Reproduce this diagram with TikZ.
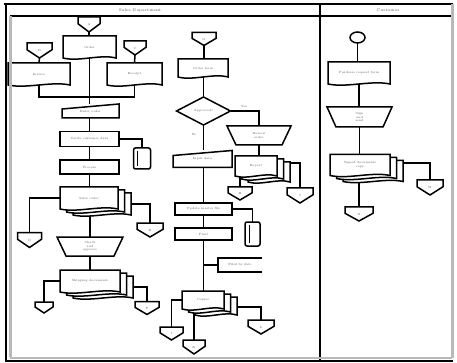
\documentclass[tikz,border=0pt]{standalone}
\usetikzlibrary{calc,shapes.geometric}
\pgfdeclarelayer{bg}
\pgfsetlayers{bg,main}
\newcommand\shDocO[2]{\path[shp] ([shift={#2}]#1.south west) -- ([shift={#2}]#1.north west) -- ([shift={#2}]#1.north east) -- ([shift={#2}]#1.south east) .. controls ($([shift={#2}]#1.south east)!0.3!([shift={#2}]#1.south west)+(0,4pt)$) and ($([shift={#2}]#1.south east)!0.7!([shift={#2}]#1.south west)+(0,-4pt)$) .. ([shift={#2}]#1.south west) -- cycle;}
\newcommand\shDoc[1]{\shDocO{#1}{(0pt,0pt)}}
\newcommand\shMDoc[1]{\shDocO{#1}{(13pt,-6pt)}\shDocO{#1}{(6.5pt,-3pt)}\shDocO{#1}{(0pt,0pt)}}
\newcommand\shMI[1]{\path[shp] (#1.south west) -- ($(#1.north west)+(0,-5pt)$) -- (#1.north east) -- (#1.south east) -- cycle;}
\newcommand\shMO[1]{\path[shp] (#1.north west) -- (#1.north east) -- ($(#1.south east)+(-9pt,0)$) -- ($(#1.south west)+(9pt,0)$) -- cycle;}
\newcommand\shOP[1]{\path[shp] (#1.north west) -- (#1.north east) -- ($(#1.north east)!0.45!(#1.south east)$) -- (#1.south) -- ($(#1.north west)!0.45!(#1.south west)$) -- cycle;}
\newcommand\shFile[1]{\path[shp,rounded corners=2pt] (#1.north west) rectangle (#1.south east); \draw[line width=1pt] ($(#1.north west)+(4pt,-3pt)$) -- ($(#1.south west)+(4pt,3pt)$);}
\newcommand\shAnn[1]{\draw[line width=1.3pt] (#1.north east) -- (#1.north west) -- (#1.south west) -- (#1.south east);}
\begin{document}
\begin{tikzpicture}[x=1pt,y=-1pt,
  shp/.style={draw=black,line width=1.5pt,fill=white,line join=miter},
  ln/.style={draw=black,line width=1.5pt},
  hold/.style={inner sep=0pt,outer sep=0pt,font=\fontsize{3}{3.6}\selectfont,text=gray!70!black,align=center},
  proc/.style={hold,draw=black,line width=1.5pt,fill=white},
  dec/.style={hold,diamond,draw=black,line width=1.5pt,fill=white},
  hdr/.style={inner sep=0pt,font=\fontsize{4}{5}\selectfont,text=gray!70!black},
  sz/.style 2 args={minimum width=#1pt,minimum height=#2pt},
]
\useasboundingbox (0,0) rectangle (457,363);
% frame
\draw[line width=2pt] (4,4) -- (453,4);
\draw[line width=1.5pt] (10,16) -- (453,16);
\draw[line width=2pt] (320,4) -- (320,360);
\draw[line width=2pt] (6,4) -- (6,361);
\draw[gray!55,line width=3pt] (10,16) -- (10,357);
\draw[gray!55,line width=2.5pt] (452.5,4) -- (452.5,358);
\draw[gray!55,line width=2pt] (10,357.5) -- (452,357.5);
\draw[line width=1.5pt] (5,361) -- (453,361);
\node[hdr] (h1) at (140,10.5) {Sales Department};
\node[hdr] (h2) at (388,10.5) {Customer};

% column A
\node[hold,sz={22}{15}] (cA0) at (89,24.5) {A};
\node[hold,sz={53}{22}] (dA1) at (89.5,47) {Order};
\node[hold,sz={25}{15}] (cA1) at (39.5,50.5) {B};
\node[hold,sz={62}{22}] (dA2) at (39,74) {Invoice};
\node[hold,sz={22}{14}] (cA2) at (135,48) {C};
\node[hold,sz={55}{22}] (dA3) at (134.5,74) {Receipt};
\coordinate (jA) at (89.5,97);
\node[hold,sz={57}{14}] (mA1) at (90.5,111) {Enter order};
\node[proc,sz={59}{15}] (pA1) at (89.5,139) {Verify customer data};
\node[hold,sz={17}{21}] (fA1) at (142,158.5) {};
\node[proc,sz={59}{14}] (pA2) at (89.5,167) {Process};
\node[hold,sz={58}{22}] (mdA1) at (89,198) {Sales order};
\node[hold,sz={24}{15}] (cA3) at (29.5,240) {D};
\node[hold,sz={26}{14}] (cA4) at (150,230) {E};
\node[hold,sz={66}{19}] (moA1) at (90,246.5) {Check\\and\\approve};
\node[hold,sz={60}{22}] (mdA2) at (90,281) {Shipping documents};
\node[hold,sz={18}{11}] (cA5) at (44,307.5) {};
\node[hold,sz={24}{13}] (cA6) at (147,308) {F};

% column B
\node[hold,sz={24}{13}] (cB0) at (204,39) {G};
\node[hold,sz={50}{18}] (dB1) at (203,68) {Order form};
\node[dec,sz={54}{28}] (dc) at (203.5,111) {Approved?};
\node[hold] (ly) at (244,106.5) {Yes};
\node[hold] (lno) at (194,134) {No};
\node[hold,sz={64}{19}] (moB1) at (259,135.5) {Review\\order};
\node[hold,sz={59}{17}] (mB1) at (202.5,159) {Input data};
\node[hold,sz={42}{20}] (mdB1) at (256,166) {Report};
\node[hold,sz={24}{13}] (cB1) at (240,193.5) {H};
\node[hold,sz={26}{15}] (cB2) at (300,195.5) {I};
\node[proc,sz={57}{12}] (pB1) at (203.5,209) {Update master file};
\node[hold,sz={15}{24}] (fB1) at (252.5,234) {};
\node[proc,sz={57}{12}] (pB2) at (203.5,234) {Print};
\coordinate (jB) at (203.5,265);
\node[hold,sz={44}{14},text width=40pt] (aB1) at (240,265) {Filed by date};
\node[hold,sz={42}{18}] (mdB2) at (203,300) {Copies};
\node[hold,sz={23}{13}] (cB3) at (171.5,333.5) {J};
\node[hold,sz={22}{14}] (cB4) at (194,347) {K};
\node[hold,sz={26}{14}] (cB5) at (261,327) {L};

% column C
\node[hold,ellipse,draw=black,line width=1.5pt,fill=white,minimum width=15pt,minimum height=11pt] (cC0) at (357.5,37.5) {};
\node[hold,sz={62}{22}] (dC1) at (359,73) {Purchase request form};
\node[hold,sz={65}{20}] (moC1) at (359.5,117) {Sign\\and\\send};
\node[hold,sz={60}{21}] (mdC1) at (360,165) {Signed documents\\copy};
\node[hold,sz={26}{15}] (cC1) at (430,187.5) {M};
\node[hold,sz={28}{14}] (cC2) at (359,214) {N};

\begin{pgfonlayer}{bg}
% connectors
\draw[ln] (cA0.south) -- (cA0.south |- dA1.north);
\draw[ln] (cA1.south) -- (dA2.north);
\draw[ln] (cA2.south) -- (dA3.north);
\draw[ln] (dA1.south) -- (dA1.south |- mA1.north);
\draw[ln] (dA2.south) |- (jA) -| (dA3.south);
\draw[ln] (mA1.south -| pA1.north) -- (pA1.north);
\draw[ln] (pA1.east) -| (fA1.north);
\draw[ln] (pA1.south) -- (pA2.north);
\draw[ln] (pA2.south) -- (pA2.south |- mdA1.north);
\draw[ln] (mdA1.west) -| (cA3.north);
\draw[ln] ([yshift=-6pt]mdA1.east) -| (cA4.north);
\draw[ln] (mdA1.south -| moA1.north) -- (moA1.north);
\draw[ln] (moA1.south) -- (mdA2.north);
\draw[ln] (mdA2.west) -| (cA5.north);
\draw[ln] ([yshift=-6pt]mdA2.east) -| (cA6.north);

\draw[ln] (cB0.south) -- (cB0.south |- dB1.north);
\draw[ln] (dB1.south -| dc.north) -- (dc.north);
\draw[ln] (dc.east) -| (moB1.north);
\draw[ln] (dc.south) -- (dc.south |- mB1.north);
\draw[ln] (moB1.south) -- (moB1.south |- mdB1.north);
\draw[ln] (cB1.north) -- (cB1.north |- mdB1.center);
\draw[ln] ([yshift=3pt]mdB1.east) -| (cB2.north);
\draw[ln] (mB1.south -| pB1.north) -- (pB1.north);
\draw[ln] (pB1.east) -| (fB1.north);
\draw[ln] (pB1.south) -- (pB2.north);
\draw[ln] (pB2.south) -- (pB2.south |- mdB2.north);
\draw[ln] (jB) -- (aB1.west);
\draw[ln] (mdB2.west) -| (cB3.north);
\draw[ln] (cB4.north) -- (cB4.north |- mdB2.center);
\draw[ln] ([yshift=-7pt]mdB2.east) -| (cB5.north);

\draw[ln] (cC0.south) -- (cC0.south |- dC1.north);
\draw[ln] (dC1.south) -- (dC1.south |- moC1.north);
\draw[ln] (moC1.south) -- (moC1.south |- mdC1.north);
\draw[ln] ([yshift=2pt]mdC1.east) -| (cC1.north);
\draw[ln] (mdC1.south -| cC2.north) -- (cC2.north);

% shapes
\shOP{cA0}\shOP{cA1}\shOP{cA2}\shOP{cA3}\shOP{cA4}\shOP{cA5}\shOP{cA6}
\shOP{cB0}\shOP{cB1}\shOP{cB2}\shOP{cB3}\shOP{cB4}\shOP{cB5}
\shOP{cC1}\shOP{cC2}
\shDoc{dA1}\shDoc{dA2}\shDoc{dA3}\shDoc{dB1}\shDoc{dC1}
\shMI{mA1}\shMI{mB1}
\shMO{moA1}\shMO{moB1}\shMO{moC1}
\shMDoc{mdA1}\shMDoc{mdA2}\shMDoc{mdB1}\shMDoc{mdB2}\shMDoc{mdC1}
\shFile{fA1}\shFile{fB1}
\shAnn{aB1}
\end{pgfonlayer}
\end{tikzpicture}
\end{document}
